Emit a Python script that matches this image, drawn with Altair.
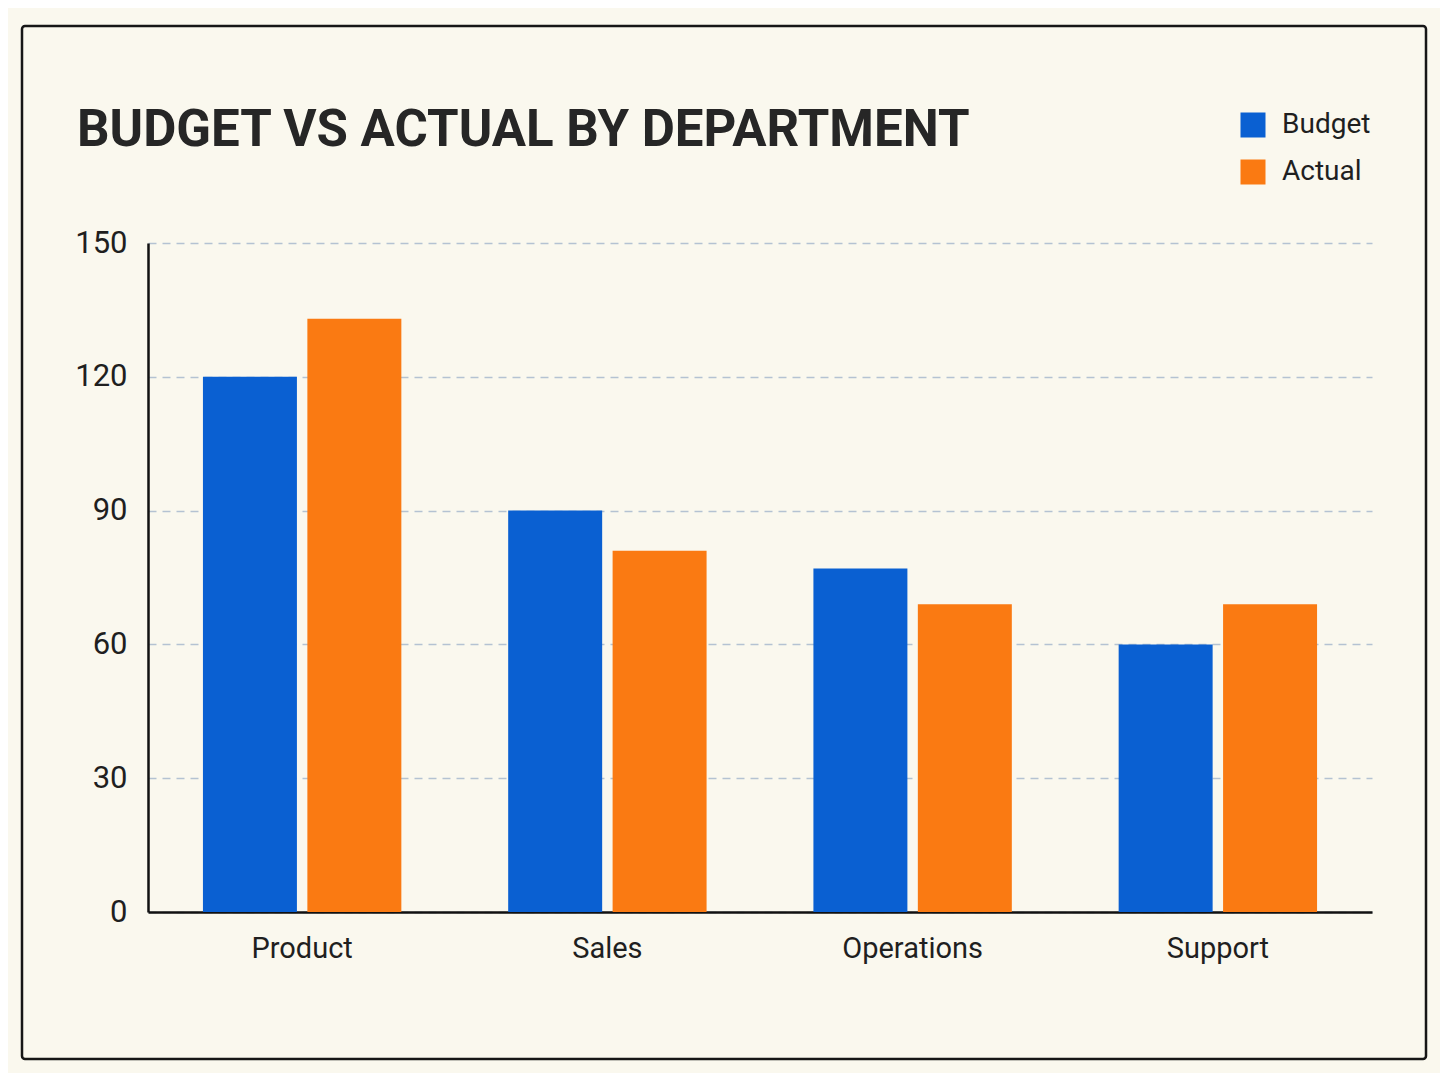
import altair as alt
import pandas as pd

departments = ["Product", "Sales", "Operations", "Support"]
budget = [120, 90, 77, 60]
actual = [133, 81, 69, 69]
series_names = ["Budget", "Actual"]
series_colors = ["#0A60D2", "#FA7A12"]
y_ticks = [0, 30, 60, 90, 120, 150]
title_text = "BUDGET VS ACTUAL BY DEPARTMENT"

rows = []
for d, b, a in zip(departments, budget, actual):
    rows.append({"Department": d, "Series": "Budget", "Value": b})
    rows.append({"Department": d, "Series": "Actual", "Value": a})
df = pd.DataFrame(rows)

FONT = "Roboto"
BG = "#FAF8EE"

bars = alt.Chart(df).mark_bar().encode(
    x=alt.X("Department:N", sort=departments, title=None,
            scale=alt.Scale(paddingInner=0.35, paddingOuter=0.18),
            axis=alt.Axis(labelAngle=0, labelFontSize=29, labelColor="#1f1f1f",
                          labelPadding=22, ticks=False, domainColor="#111111",
                          domainWidth=2.5, grid=False, labelFont=FONT)),
    xOffset=alt.XOffset("Series:N", sort=series_names,
                        scale=alt.Scale(paddingInner=0.1, paddingOuter=0)),
    y=alt.Y("Value:Q", title=None,
            scale=alt.Scale(domain=[0, 150], nice=False),
            axis=alt.Axis(values=y_ticks, labelFontSize=31, labelColor="#1f1f1f",
                          labelPadding=21, ticks=False, domainColor="#111111",
                          domainWidth=2.5, grid=True, gridColor="#B4C2D2",
                          gridDash=[8, 6], gridWidth=1.5, labelFont=FONT)),
    color=alt.Color("Series:N", sort=series_names,
                    scale=alt.Scale(domain=series_names, range=series_colors),
                    legend=alt.Legend(title=None, orient="none", legendX=1091, legendY=-132,
                                      symbolType="square", symbolSize=625,
                                      symbolStrokeWidth=0, labelFontSize=28,
                                      labelFont=FONT,
                                      labelColor="#1f1f1f", labelOffset=15,
                                      rowPadding=19)),
)

frame = alt.Chart(alt.Data(values=[{}])).mark_rect(
    fill=None, stroke="#161616", strokeWidth=2.5, cornerRadius=3
).encode(
    x=alt.value(-126), x2=alt.value(1278), y=alt.value(-217), y2=alt.value(816)
)

title = alt.Chart(alt.Data(values=[{}])).mark_text(
    text=title_text, font=FONT, fontSize=51, fontWeight="bold", color="#262626",
    align="left", baseline="alphabetic"
).encode(x=alt.value(-71), y=alt.value(-97))

chart = alt.layer(frame, bars, title).properties(
    width=1224, height=669,
    padding={"left": 12, "top": 16, "right": 12, "bottom": 12},
    background=BG,
).configure(font=FONT).configure_view(stroke=None)

chart.save("out.html", embed_options={"renderer": "svg", "actions": False})
